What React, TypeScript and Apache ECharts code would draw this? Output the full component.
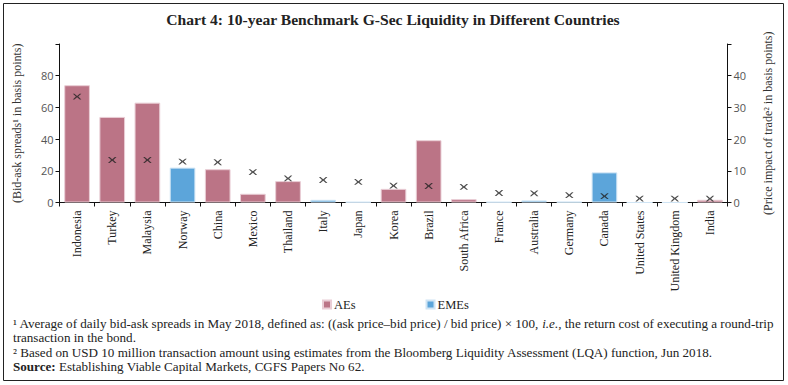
import React, { useEffect, useRef } from "react";
import * as echarts from "echarts";

const categories = [
  "Indonesia", "Turkey", "Malaysia", "Norway", "China", "Mexico", "Thailand",
  "Italy", "Japan", "Korea", "Brazil", "South Africa", "France", "Australia",
  "Germany", "Canada", "United States", "United Kingdom", "India",
];
// Bid-ask spreads (left axis), split by bar colour / legend entry
const aesSpread = [74, 54, 63, null, 21, 5.5, 13.5, null, null, 8.6, 39.3, 2.1, null, null, null, null, null, null, 1.7];
const emesSpread = [null, null, null, 22, null, null, null, 1.7, 0.3, null, null, null, 0.3, 1.3, 0.4, 19, 0, 0, null];
// Price impact of trade (right axis)
const priceImpact = [33.4, 13.4, 13.4, 12.9, 12.7, 9.6, 7.6, 7.1, 6.5, 5.3, 5.2, 4.9, 3.0, 2.9, 2.3, 2.0, 1.25, 1.25, 1.2];

const leftTicks = [0, 20, 40, 60, 80];
const rightTicks = [0, 10, 20, 30, 40];

const SERIF = '"Liberation Serif", "DejaVu Serif", serif';
const SANS = '"Open Sans", "Noto Sans", sans-serif';
const MAUVE = "#bb7486";
const BLUE = "#5ca5da";
const FN = 13.1;

const CROSS = "path://M0,0L1.9,0L5,2.6L8.1,0L10,0L6.4,3.5L10,7L8.1,7L5,4.4L1.9,7L0,7L3.6,3.5Z";

export default function App() {
  const ref = useRef<HTMLDivElement>(null);
  useEffect(() => {
    if (!ref.current) return;
    const chart = echarts.init(ref.current, null, { renderer: "svg" });
    chart.setOption({
      animation: false,
      backgroundColor: "#ffffff",
      grid: { left: 59.5, right: 60.5, top: 44, bottom: 182.5, containLabel: false },
      legend: {
        data: ["AEs", "EMEs"],
        left: 317,
        top: 293,
        icon: "rect",
        itemWidth: 8,
        itemHeight: 8,
        itemGap: 70,
        textStyle: { fontFamily: SERIF, fontSize: 12.5, color: "#222", padding: [0, 0, 0, -2] },
      },
      xAxis: {
        type: "category",
        data: categories,
        axisLine: { lineStyle: { color: "#111", width: 1 } },
        axisTick: { show: true, length: 4, lineStyle: { color: "#111" } },
        axisLabel: {
          rotate: 90,
          margin: 8,
          interval: 0,
          fontFamily: SERIF,
          fontSize: 12,
          color: "#222",
        },
      },
      yAxis: [
        {
          type: "value",
          min: 0,
          max: 100,
          interval: 20,
          position: "left",
          name: "(Bid-ask spreads¹ in basis points)",
          nameLocation: "middle",
          nameRotate: 90,
          nameGap: 37,
          nameTextStyle: { fontFamily: SERIF, fontSize: 12, color: "#333" },
          splitLine: { show: false },
          axisLine: { show: true, lineStyle: { color: "#111" } },
          axisTick: { show: true, length: 4, lineStyle: { color: "#111" } },
          axisLabel: {
            fontFamily: SANS,
            fontSize: 11,
            color: "#555",
            margin: 6,
            formatter: (v: number) => (leftTicks.includes(v) ? String(v) : ""),
          },
        },
        {
          type: "value",
          min: 0,
          max: 50,
          interval: 10,
          position: "right",
          name: "(Price impact of trade² in basis points)",
          nameLocation: "middle",
          nameRotate: 90,
          nameGap: 34,
          nameTextStyle: { fontFamily: SERIF, fontSize: 12, color: "#333" },
          splitLine: { show: false },
          axisLine: { show: true, lineStyle: { color: "#111" } },
          axisTick: { show: true, length: 4, lineStyle: { color: "#111" } },
          axisLabel: {
            fontFamily: SANS,
            fontSize: 11,
            color: "#555",
            margin: 6,
            formatter: (v: number) => (rightTicks.includes(v) ? String(v) : ""),
          },
        },
      ],
      series: [
        {
          name: "AEs",
          type: "bar",
          stack: "s",
          data: aesSpread,
          barCategoryGap: "27%",
          itemStyle: { color: MAUVE, borderColor: "#e9cdd5", borderWidth: 1 },
        },
        {
          name: "EMEs",
          type: "bar",
          stack: "s",
          data: emesSpread,
          barCategoryGap: "27%",
          itemStyle: { color: BLUE, borderColor: "#cfe4f4", borderWidth: 1 },
        },
        {
          name: "Price impact",
          type: "scatter",
          yAxisIndex: 1,
          data: priceImpact,
          symbol: CROSS,
          symbolSize: [8.5, 5.8],
          itemStyle: { color: "#222" },
          z: 5,
        },
      ],
      graphic: [
        {
          type: "rect",
          silent: true,
          shape: { x: 3.5, y: 3.5, width: 780, height: 377 },
          style: { fill: "none", stroke: "#222", lineWidth: 1 },
        },
        {
          type: "text",
          x: 393,
          y: 19,
          style: {
            text: "Chart 4: 10-year Benchmark G-Sec Liquidity in Different Countries",
            font: `bold 15.6px ${SERIF}`,
            fill: "#222",
            align: "center",
            verticalAlign: "middle",
          },
        },
        {
          type: "text",
          x: 13,
          y: 323,
          style: {
            text: "{n|¹ Average of daily bid-ask spreads in May 2018, defined as: ((ask price–bid price) / bid price) × 100, }{i|i.e.,}{n| the return cost of executing a round-trip}",
            verticalAlign: "middle",
            rich: {
              n: { fontFamily: SERIF, fontSize: FN, fill: "#222" },
              i: { fontFamily: SERIF, fontSize: FN, fontStyle: "italic", fill: "#222" },
            },
          },
        },
        {
          type: "text",
          x: 13,
          y: 337.5,
          style: {
            text: "transaction in the bond.",
            font: `${FN}px ${SERIF}`,
            fill: "#222",
            verticalAlign: "middle",
          },
        },
        {
          type: "text",
          x: 13,
          y: 352,
          style: {
            text: "² Based on USD 10 million transaction amount using estimates from the Bloomberg Liquidity Assessment (LQA) function, Jun 2018.",
            font: `${FN}px ${SERIF}`,
            fill: "#222",
            verticalAlign: "middle",
          },
        },
        {
          type: "text",
          x: 13,
          y: 366.5,
          style: {
            text: "{b|Source:}{n| Establishing Viable Capital Markets, CGFS Papers No 62.}",
            verticalAlign: "middle",
            rich: {
              n: { fontFamily: SERIF, fontSize: FN, fill: "#222" },
              b: { fontFamily: SERIF, fontSize: FN, fontWeight: "bold", fill: "#222" },
            },
          },
        },
      ],
    });
    return () => chart.dispose();
  }, []);
  return (
    <div
      ref={ref}
      style={{ position: "fixed", left: 0, top: 0, width: 788, height: 385, background: "#fff" }}
    />
  );
}
